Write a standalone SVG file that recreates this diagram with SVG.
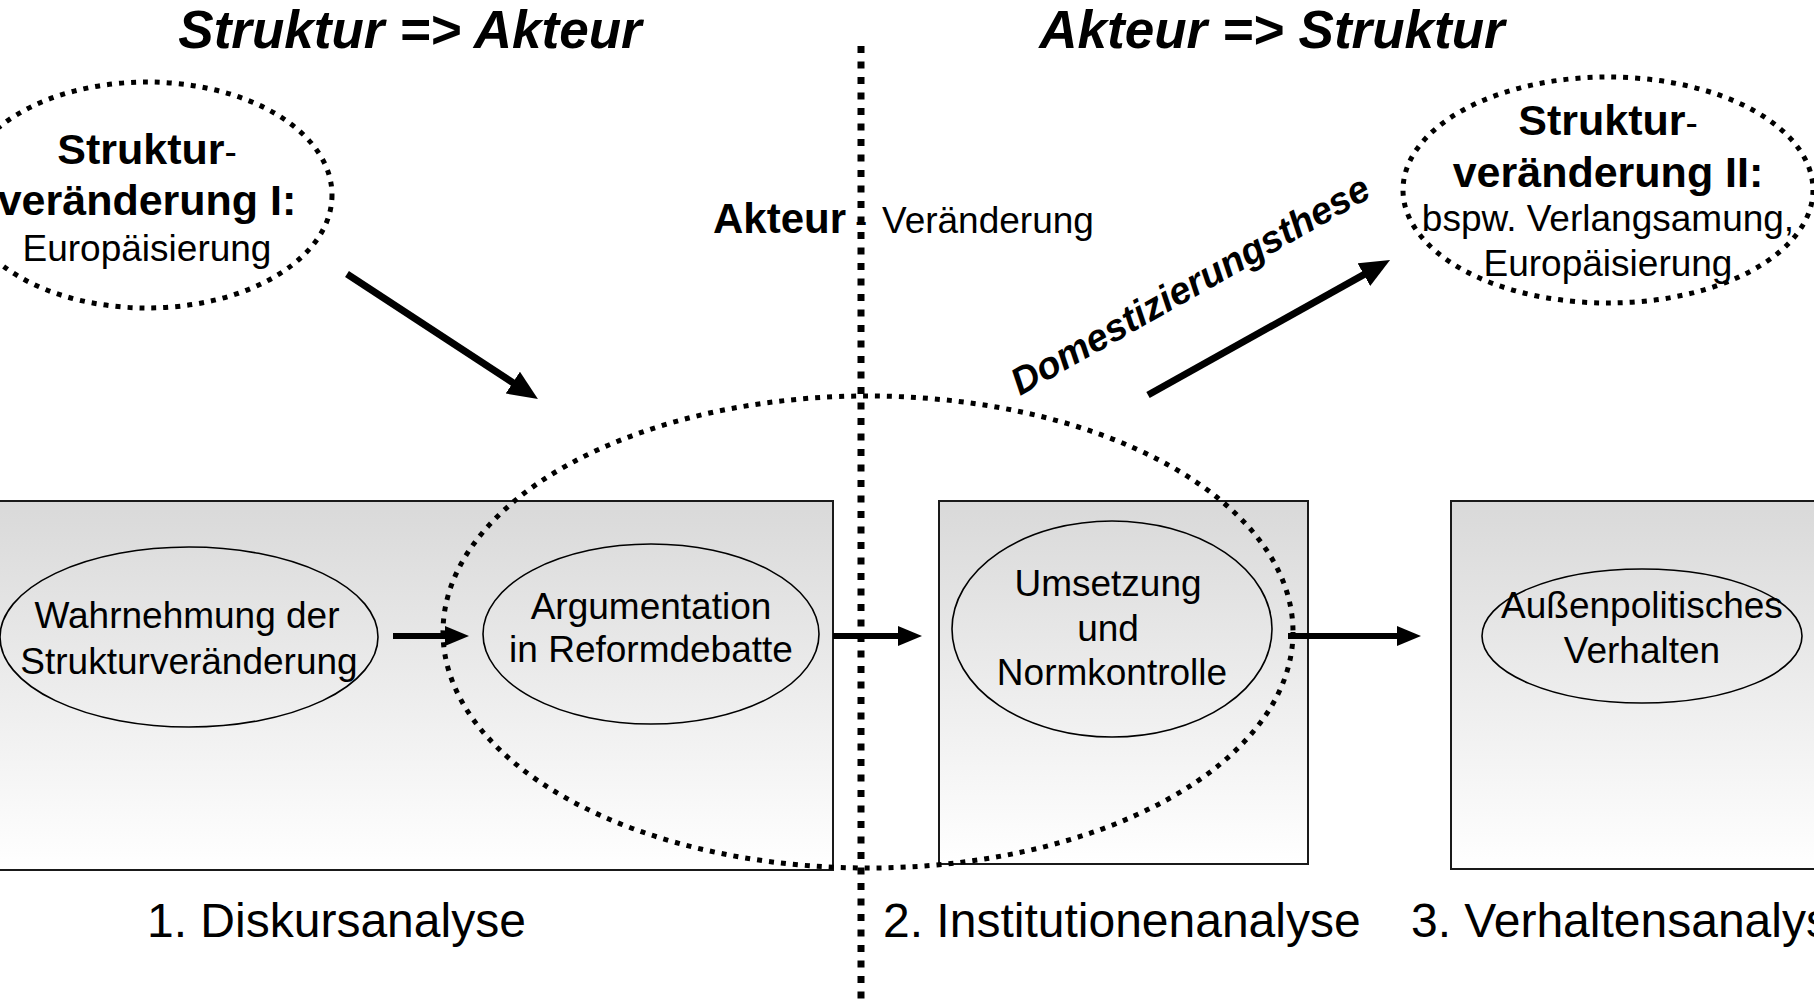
<svg xmlns="http://www.w3.org/2000/svg" width="1814" height="999" viewBox="0 0 1814 999">
<defs>
<linearGradient id="boxg" x1="0" y1="0" x2="0" y2="1">
<stop offset="0" stop-color="#d9d9d9"/>
<stop offset="1" stop-color="#ffffff"/>
</linearGradient>
<marker id="ah" markerUnits="userSpaceOnUse" markerWidth="24" markerHeight="20" refX="2" refY="10" orient="auto">
<path d="M0,0 L24,10 L0,20 z" fill="#000"/>
</marker>
<marker id="ahb" markerUnits="userSpaceOnUse" markerWidth="30" markerHeight="26" refX="2" refY="13" orient="auto">
<path d="M0,0 L30,13 L0,26 z" fill="#000"/>
</marker>
</defs>
<style>
text{font-family:"Liberation Sans",Arial,sans-serif;fill:#000}
.title{font-size:53px;font-weight:bold;font-style:italic}
.b{font-size:43px;font-weight:bold}
.r{font-size:37px}
.lbl{font-size:48px}
.box{fill:url(#boxg);stroke:#1a1a1a;stroke-width:2}
.inner{fill:none;stroke:#000;stroke-width:1.6}
.dots{fill:none;stroke:#000;stroke-width:5;stroke-dasharray:5 7}
.conn{stroke:#000;stroke-width:6;fill:none}
.connb{stroke:#000;stroke-width:7;fill:none}
</style>

<g id="titles">
<text class="title" x="410" y="48" text-anchor="middle">Struktur =&gt; Akteur</text>
<text class="title" x="1272" y="48" text-anchor="middle">Akteur =&gt; Struktur</text>
</g>

<g id="box1">
<rect class="box" x="-10" y="501" width="843" height="369"/>
<ellipse class="inner" cx="189" cy="637" rx="189" ry="90"/>
<text class="r" x="187" y="628" text-anchor="middle">Wahrnehmung der</text>
<text class="r" x="189" y="674" text-anchor="middle">Strukturveränderung</text>
<ellipse class="inner" cx="651" cy="634" rx="168" ry="90"/>
<text class="r" x="651" y="619" text-anchor="middle">Argumentation</text>
<text class="r" x="651" y="662" text-anchor="middle">in Reformdebatte</text>
</g>

<g id="box2">
<rect class="box" x="939" y="501" width="369" height="363"/>
<ellipse class="inner" cx="1112" cy="629" rx="160" ry="108"/>
<text class="r" x="1108" y="596" text-anchor="middle">Umsetzung</text>
<text class="r" x="1108" y="641" text-anchor="middle">und</text>
<text class="r" x="1112" y="685" text-anchor="middle">Normkontrolle</text>
</g>

<g id="box3">
<rect class="box" x="1451" y="501" width="380" height="368"/>
<ellipse class="inner" cx="1642" cy="636" rx="160" ry="67"/>
<text class="r" x="1642" y="618" text-anchor="middle">Außenpolitisches</text>
<text class="r" x="1642" y="663" text-anchor="middle">Verhalten</text>
</g>

<g id="struktur1">
<ellipse class="dots" cx="147" cy="195" rx="185" ry="113"/>
<text x="147" y="164" text-anchor="middle"><tspan class="b">Struktur</tspan><tspan class="r">-</tspan></text>
<text class="b" x="147" y="215" text-anchor="middle">veränderung I:</text>
<text class="r" x="147" y="261" text-anchor="middle">Europäisierung</text>
</g>

<g id="struktur2">
<ellipse class="dots" cx="1608" cy="190" rx="205" ry="113"/>
<text x="1608" y="135" text-anchor="middle"><tspan class="b">Struktur</tspan><tspan class="r">-</tspan></text>
<text class="b" x="1608" y="187" text-anchor="middle">veränderung II:</text>
<text class="r" x="1608" y="231" text-anchor="middle">bspw. Verlangsamung,</text>
<text class="r" x="1608" y="276" text-anchor="middle">Europäisierung</text>
</g>

<g id="akteur-label">
<text x="846" y="233" text-anchor="end" class="b" style="font-size:42px">Akteur</text>
<text class="r" x="855" y="233">-</text>
<text class="r" x="882" y="233">Veränderung</text>
</g>

<g id="domestizierung">
<text class="title" style="font-size:38px" x="1020" y="396" transform="rotate(-29.5 1020 396)">Domestizierungsthese</text>
</g>

<g id="akteur-ellipse">
<ellipse class="dots" cx="868" cy="632" rx="425" ry="236"/>
</g>

<g id="divider">
<line x1="861" y1="46" x2="861" y2="999" stroke="#000" stroke-width="7" stroke-dasharray="7 8.5"/>
</g>

<g id="connectors">
<line class="connb" x1="347" y1="274" x2="514.5" y2="383.7" marker-end="url(#ahb)"/>
<line class="connb" x1="1148" y1="395" x2="1365.6" y2="273.6" marker-end="url(#ahb)"/>
<line class="conn" x1="393" y1="636" x2="447" y2="636" marker-end="url(#ah)"/>
<line class="conn" x1="833" y1="636" x2="900" y2="636" marker-end="url(#ah)"/>
<line class="conn" x1="1288" y1="636" x2="1399" y2="636" marker-end="url(#ah)"/>
</g>

<g id="labels">
<text class="lbl" x="147" y="937">1. Diskursanalyse</text>
<text class="lbl" x="883" y="937">2. Institutionenanalyse</text>
<text class="lbl" x="1411" y="937">3. Verhaltensanalyse</text>
</g>
</svg>
